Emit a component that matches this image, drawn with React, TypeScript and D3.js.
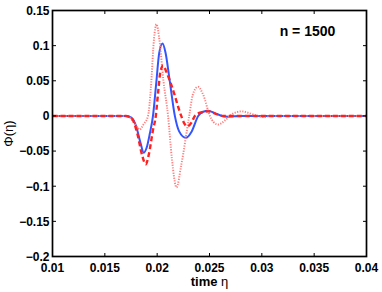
import React from 'react';
import * as d3 from 'd3';

// [time, value] samples
const solidSeries: [number, number][] = [
  [0.01, 0], [0.017, 0], [0.0175, -0.002], [0.018, -0.015], [0.0184, -0.038],
  [0.01872, -0.0523], [0.019, -0.045], [0.0193, -0.025], [0.0196, 0],
  [0.0199, 0.045], [0.0202, 0.09], [0.02051, 0.1031], [0.0208, 0.09],
  [0.0212, 0.05], [0.02169, 0], [0.0221, -0.022], [0.02274, -0.0311],
  [0.0233, -0.022], [0.02392, 0], [0.0244, 0.006], [0.02488, 0.0075],
  [0.0255, 0.004], [0.0262, 0], [0.0268, -0.001], [0.028, 0], [0.04, 0],
];

const dashedSeries: [number, number][] = [
  [0.01, 0], [0.017, 0], [0.0176, -0.004], [0.0181, -0.025], [0.0186, -0.058],
  [0.01891, -0.0688], [0.0192, -0.055], [0.0196, -0.02], [0.01987, 0],
  [0.0201, 0.035], [0.0203, 0.062], [0.02056, 0.0715], [0.0209, 0.062],
  [0.0214, 0.042], [0.0223, 0], [0.0226, -0.011], [0.0229, -0.0147],
  [0.0233, -0.009], [0.0236, 0], [0.0242, 0.005], [0.0249, 0.0065],
  [0.0256, 0.003], [0.0263, 0], [0.028, 0], [0.04, 0],
];

const dottedSeries: [number, number][] = [
  [0.01, 0], [0.017, 0], [0.0175, -0.004], [0.018, -0.014], [0.01833, -0.0193],
  [0.0187, -0.012], [0.01913, 0], [0.0194, 0.04], [0.0197, 0.11],
  [0.01993, 0.1305], [0.0202, 0.11], [0.0206, 0.05], [0.02104, 0],
  [0.0214, -0.06], [0.02185, -0.1017], [0.0223, -0.07], [0.02306, 0],
  [0.0234, 0.03], [0.02389, 0.0415], [0.0244, 0.03], [0.02504, 0],
  [0.0254, -0.009], [0.02583, -0.0123], [0.0265, -0.006], [0.0272, 0.003],
  [0.02807, 0.0065], [0.029, 0.003], [0.0296, 0], [0.0301, -0.0015],
  [0.031, 0], [0.04, 0],
];

const xTicks = [0.01, 0.015, 0.02, 0.025, 0.03, 0.035, 0.04];
const yTicks = [0.15, 0.1, 0.05, 0, -0.05, -0.1, -0.15, -0.2];
const xTickLabels = ['0.01', '0.015', '0.02', '0.025', '0.03', '0.035', '0.04'];
const yTickLabels = ['0.15', '0.1', '0.05', '0', '\u22120.05', '\u22120.1', '\u22120.15', '\u22120.2'];
const annotation = 'n = 1500';

const width = 382;
const height = 292;
const margin = { top: 10.5, right: 15.5, bottom: 35.5, left: 52.5 };
const font = '"Liberation Sans", Arial, Helvetica, sans-serif';

const App = () => {
  const x = d3.scaleLinear().domain([0.01, 0.04]).range([margin.left, width - margin.right]);
  const y = d3.scaleLinear().domain([-0.2, 0.15]).range([height - margin.bottom, margin.top]);

  const line = d3.line<[number, number]>()
    .x(d => x(d[0]))
    .y(d => y(d[1]))
    .curve(d3.curveMonotoneX);

  const x0 = x.range()[0];
  const x1 = x.range()[1];
  const y0 = y.range()[0];
  const y1 = y.range()[1];
  const tick = 3.5;

  return (
    <svg width={width} height={height} style={{ position: 'absolute', left: 0, top: 0 }}>
      <rect x={0} y={0} width={width} height={height} fill="#fff" />
      <defs>
        <clipPath id="plot">
          <rect x={x0} y={y1} width={x1 - x0} height={y0 - y1} />
        </clipPath>
      </defs>
      <g clipPath="url(#plot)">
        <path d={line(solidSeries) ?? ''} fill="none" stroke="#3355ff" strokeWidth={2} />
        <path d={line(dottedSeries) ?? ''} fill="none" stroke="#ff7c7c" strokeWidth={1.9} strokeDasharray="1.2 1.4" />
        <path d={line(dashedSeries) ?? ''} fill="none" stroke="#ff2020" strokeWidth={2.4} strokeDasharray="5 3" />
      </g>

      {xTicks.map(t => (
        <g key={'x' + t}>
          <line x1={x(t)} x2={x(t)} y1={y0} y2={y0 - tick} stroke="#000" strokeWidth={1} />
          <line x1={x(t)} x2={x(t)} y1={y1} y2={y1 + tick} stroke="#000" strokeWidth={1} />
        </g>
      ))}
      {yTicks.map(t => (
        <g key={'y' + t}>
          <line x1={x0} x2={x0 + tick} y1={y(t)} y2={y(t)} stroke="#000" strokeWidth={1} />
          <line x1={x1} x2={x1 - tick} y1={y(t)} y2={y(t)} stroke="#000" strokeWidth={1} />
        </g>
      ))}
      <rect x={x0} y={y1} width={x1 - x0} height={y0 - y1} fill="none" stroke="#000" strokeWidth={1.7} />

      <g fontFamily={font} fontWeight="bold" fontSize={12} fill="#000">
        {xTicks.map((t, i) => (
          <text key={'xl' + t} x={x(t)} y={y0 + 15.5} textAnchor="middle">{xTickLabels[i]}</text>
        ))}
        {yTicks.map((t, i) => (
          <text key={'yl' + t} x={x0 - 3} y={y(t) + 4.3} textAnchor="end">{yTickLabels[i]}</text>
        ))}
      </g>

      <text x={(x0 + x1) / 2} y={286} textAnchor="middle" fontFamily={font} fontSize={13} fill="#000">
        <tspan fontWeight="bold">time </tspan>
        <tspan>{'\u03b7'}</tspan>
      </text>
      <text
        transform={`translate(12.5,${(y0 + y1) / 2}) rotate(-90)`}
        textAnchor="middle"
        fontFamily={font}
        fontSize={13}
        fill="#000"
      >
        {'\u03a6(\u03b7)'}
      </text>
      <text x={307.5} y={36} textAnchor="middle" fontFamily={font} fontWeight="bold" fontSize={14} fill="#000">
        {annotation}
      </text>
    </svg>
  );
};

export default App;
